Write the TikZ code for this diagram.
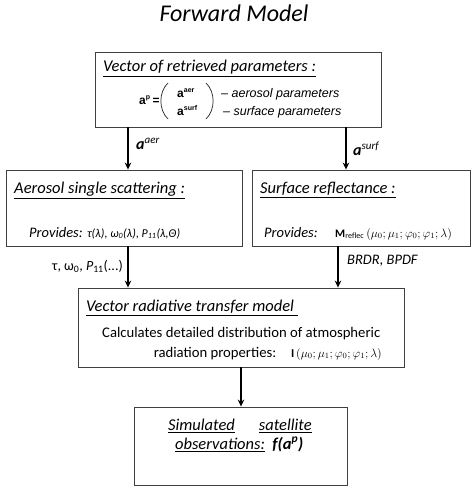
\documentclass[tikz,border=0pt]{standalone}
\usepackage{fontspec}
\usepackage{amsmath}
\setmainfont{Carlito}
\newfontfamily\arial{Liberation Sans}
\usetikzlibrary{arrows.meta,shadows}
\tikzset{
  box/.style={draw=black!75, line width=0.9pt, fill=white, inner sep=0pt,
    drop shadow={shadow xshift=1.2pt, shadow yshift=-1.2pt, opacity=0.35, fill=black!60}},
  arr/.style={-{Stealth[length=7pt,width=6.5pt]}, line width=1.5pt},
  head/.style={anchor=base west, inner sep=0pt, font=\fontsize{16.5}{18}\selectfont\itshape},
  bodyi/.style={anchor=base west, inner sep=0pt, font=\fontsize{14.5}{16}\selectfont\itshape},
  body/.style={inner sep=0pt, font=\fontsize{14.7}{17}\selectfont},
  fa/.style={anchor=base west, inner sep=0pt, font=\arial\bfseries\fontsize{12}{13}\selectfont},
  ft/.style={anchor=base west, inner sep=0pt, font=\arial\itshape\fontsize{12.5}{14}\selectfont},
  parenline/.style={line width=0.75pt, draw=black!80},
  lbl/.style={anchor=base west, inner sep=0pt, font=\fontsize{16}{18}\selectfont\bfseries\itshape},
}
\newcommand{\supr}[1]{\raisebox{6pt}{\fontsize{11}{12}\selectfont\mdseries\itshape #1}}
\newcommand{\tsup}[1]{\raisebox{4.5pt}{\fontsize{7}{8}\selectfont #1}}
\begin{document}
\begin{tikzpicture}[x=1pt,y=1pt]
\useasboundingbox (0,0) rectangle (473,-491);

% title
\node[anchor=base, inner sep=0pt, font=\fontsize{24}{28}\selectfont\itshape] (title) at (234,-21) {Forward Model};

% boxes
\node[box, minimum width=286pt, minimum height=75pt] (top) at (238,-89.5) {};
\node[box, minimum width=236pt, minimum height=76pt] (aer) at (124,-208) {};
\node[box, minimum width=218pt, minimum height=76pt] (surf) at (361,-208) {};
\node[box, minimum width=326pt, minimum height=79pt] (vrt) at (241,-327.5) {};
\node[box, minimum width=213pt, minimum height=78pt] (obs) at (240.5,-446) {};

% top box content
\node[head] (h1) at (103,-71) {\underline{Vector of retrieved parameters :}};
\node[fa] (ap) at (139,-104) {a\tsup{p}};
\node[fa] (eq) at (152.5,-104) {=};
\draw[parenline] (168,-83) .. controls (158.5,-92) and (158.5,-110) .. (168,-119);
\draw[parenline] (206,-83) .. controls (215.5,-92) and (215.5,-110) .. (206,-119);
\node[fa] (aa) at (177,-97) {a\tsup{aer}};
\node[fa] (as) at (177,-115) {a\tsup{surf}};
\node[ft] (ta) at (221,-97) {– aerosol parameters};
\node[ft] (ts) at (223,-115) {– surface parameters};

% aerosol box content
\node[head] (h2) at (14,-193) {\underline{Aerosol single scattering :}};
\node[bodyi] (p2) at (29,-237) {Provides: {\fontsize{12}{14}\selectfont τ(λ), ω\textsubscript{0}(λ), P\textsubscript{11}(λ,Θ)}};

% surface box content
\node[head] (h3) at (260,-193) {\underline{Surface reflectance :}};
\node[bodyi] (p3) at (264,-237) {Provides:};
\node[anchor=base west, inner sep=0pt, font=\fontsize{11.5}{13}\selectfont] (m3) at (335,-237)
  {$\mathbf{M}_{\mathrm{reflec}}\left(\mu_0;\mu_1;\varphi_0;\varphi_1;\lambda\right)$};

% vrt box content
\node[head] (h4) at (86,-311) {\underline{Vector radiative transfer model\ }};
\node[body, anchor=base west] (l4a) at (102,-337) {Calculates detailed distribution of atmospheric};
\node[body, anchor=base east] (l4b) at (382,-357)
  {radiation properties:\quad {\fontsize{12}{14}\selectfont$\mathbf{I}\left(\mu_0;\mu_1;\varphi_0;\varphi_1;\lambda\right)$}};

% obs box content
\node[head] (h5a) at (168,-430) {\underline{Simulated}\hspace{24pt}\underline{satellite}};
\node[head] (h5b) at (175,-449) {\underline{observations:}\ \ \textbf{f(a\textsuperscript{p})}};

% connectors
\coordinate (xa) at (128,0);
\coordinate (xs) at (346,0);
\coordinate (xb) at (338,0);
\coordinate (xv) at (241,0);
\draw[arr] (top.south -| xa) -- (aer.north -| xa);
\draw[arr] (top.south -| xs) -- (surf.north -| xs);
\draw[arr] (aer.south -| xa) -- (vrt.north -| xa);
\draw[arr] (surf.south -| xb) -- (vrt.north -| xb);
\draw[arr] (vrt.south -| xv) -- (obs.north -| xv);

% connector labels
\node[lbl] (la) at (136,-149) {a\supr{aer}};
\node[lbl] (ls) at (353,-155) {a\supr{surf}};
\node[anchor=base east, inner sep=0pt, font=\fontsize{14}{16}\selectfont] (lt) at (123,-270)
  {τ, ω\textsubscript{0}, \textit{P}\textsubscript{11}(...)};
\node[anchor=base west, inner sep=0pt, font=\fontsize{14.5}{16}\selectfont\itshape] (lb) at (347,-264) {BRDR, BPDF};
\end{tikzpicture}
\end{document}
